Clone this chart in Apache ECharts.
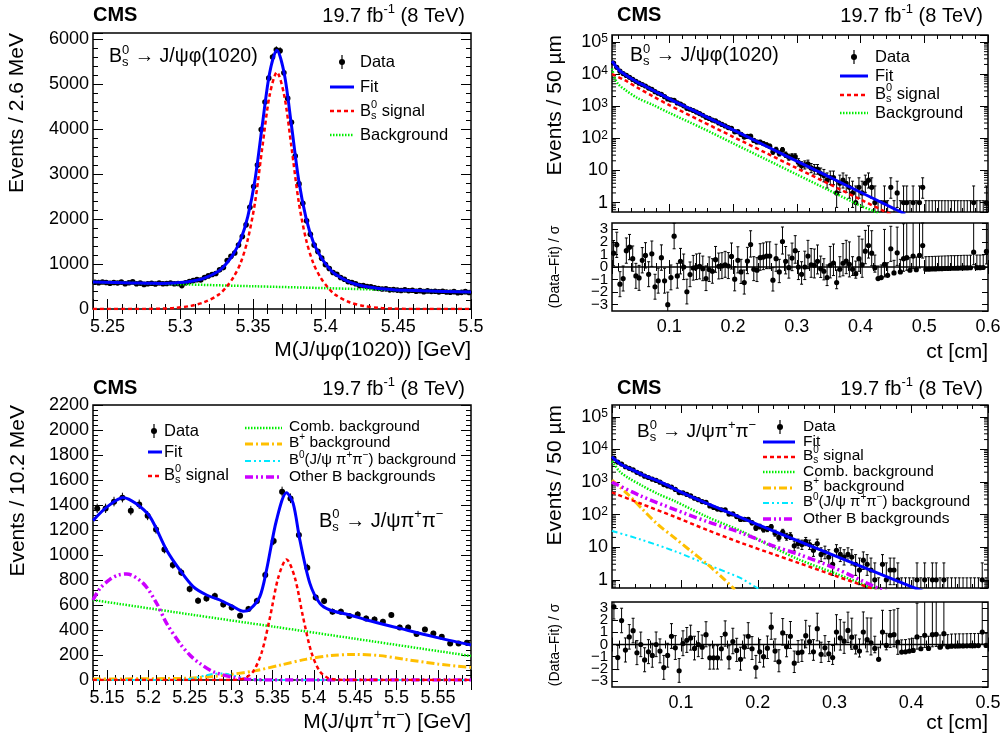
<!DOCTYPE html>
<html>
<head>
<meta charset="utf-8">
<script src="https://cdn.jsdelivr.net/npm/echarts@6/dist/echarts.min.js"></script>
<style>
html, body { margin: 0; padding: 0; background: #fff; }
#c { width: 1007px; height: 736px; }
</style>
</head>
<body>
<div id="c"></div>
<script>
const FONT = '"Liberation Sans", Arial, Helvetica, sans-serif';

// ---------------- binning ----------------
const PHI_M_LO = 5.24, PHI_M_HI = 5.5, PHI_M_BIN = 0.0026;      // 2.6 MeV bins
const PIPI_M_LO = 5.133, PIPI_M_HI = 5.59, PIPI_M_BIN = 0.01016; // 10.2 MeV bins
const CT_LO = 0.01, CT_BIN = 0.005;                               // 50 um bins
const PHI_CT_HI = 0.6, PIPI_CT_HI = 0.5;

// ---------------- Bs -> J/psi phi(1020): mass ----------------
const phiMassCounts = [
  595,585,600,588,572,588,578,598,562,583,
  602,560,574,547,560,572,556,578,562,566,
  578,560,566,520,582,612,630,652,645,700,
  735,765,790,870,920,1075,1170,1245,1420,1610,
  1870,2260,2720,3200,3990,4600,5130,5600,5760,5740,
  5250,4680,4150,3400,2780,2350,1960,1660,1420,1280,
  1130,985,900,810,770,700,660,605,590,560,
  520,520,500,495,470,455,445,448,425,430,
  420,410,425,405,415,395,408,385,402,388,
  395,380,395,378,372,385,360,370,385,365
];
const phiMassFit = [
  [5.24,602],[5.2665,579],[5.2765,572],[5.2865,569],[5.2965,578],[5.3065,609],[5.3165,685],
  [5.3265,847],[5.3315,1002],[5.3365,1218],[5.3415,1533],[5.3465,2059],[5.3515,2885],[5.3565,4100],
  [5.3615,5246],[5.3665,5752],[5.3715,5237],[5.3765,4083],[5.3815,2859],[5.3865,2024],[5.3915,1490],
  [5.3965,1166],[5.4015,941],[5.4065,777],[5.4165,598],[5.4265,504],[5.4365,456],[5.4465,430],
  [5.4565,415],[5.4665,404],[5.5,375]
];
const phiMassSignal = [
  [5.24,0],[5.2665,0],[5.2765,2],[5.2865,8],[5.2965,25],[5.3065,65],[5.3165,150],[5.3265,320],
  [5.3315,480],[5.3365,700],[5.3415,1020],[5.3465,1550],[5.3515,2380],[5.3565,3600],[5.3615,4750],
  [5.3665,5260],[5.3715,4750],[5.3765,3600],[5.3815,2380],[5.3865,1550],[5.3915,1020],[5.3965,700],
  [5.4015,480],[5.4065,320],[5.4165,150],[5.4265,65],[5.4365,25],[5.4465,8],[5.4565,2],[5.4665,0],[5.5,0]
];
const phiMassBkg = [[5.24,602],[5.3,550],[5.35,506],[5.4,463],[5.45,419],[5.5,375]];

// ---------------- Bs -> J/psi phi(1020): proper decay length ----------------
const phiCtCounts = [
  22163,16222,12347,10406,9123,7939,6854,5945,5236,4736,
  4260,3685,3360,2840,2534,2335,1985,1678,1576,1533,
  1264,1168,1031,862,807,736,659,591,524,452,
  418,370,348,303,271,244,217,205,160,161,
  133,110,115,117,86,77,77,69,63,57,
  38,45,34,44,31,26,27,27,18,14,
  15,16,12,11,11,8,7,5,6,6,
  2,4,5,4,3,2,1,3,2,4,
  5,3,1,0,0,1,0,3,0,2,
  0,1,1,0,1,0,1,3,0,0,
  0,0,0,0,0,0,0,0,0,0,
  0,0,0,1,0,0,0,1
];
const phiCtPull = [
  1.1,1.76,-1.37,-0.92,1.3,1.58,0.66,-0.71,-0.87,0.53,
  0.92,-0.58,1.05,-1.58,-1.1,0.74,-1.1,-3.0,-0.84,2.45,
  -0.71,0.45,0,-1.97,-0.6,-0.08,0,0.05,-0.13,-0.92,
  -0.2,-0.34,0.58,0.05,0.08,0.18,0.08,0.84,-0.97,0.53,
  -0.39,-1.24,0.47,1.79,-0.18,-0.26,0.74,0.79,0.87,0.87,
  -1.05,0.66,-0.39,2.03,0.45,-0.05,0.71,1.3,0,-0.58,
  0,0.87,0.18,0.13,0.45,-0.13,-0.34,-0.84,0.13,0.32,
  -1.24,-0.18,0.3,0.47,0.21,-0.18,-0.53,0.66,0.18,1.26,
  1.71,1.1,-0.05,-0.92,-0.84,0.21,-0.66,1.45,-0.47,1.13,
  -0.39,0.66,0.74,-0.26,0.87,-0.21,0.92,1.71,-0.18,-0.17,
  -0.16,-0.15,-0.14,-0.13,-0.12,-0.11,-0.1,-0.1,-0.09,-0.08,
  -0.07,-0.07,-0.06,1.18,-0.05,-0.05,-0.04,1.24
];
const phiCtFit = [
  [0.01,25000],[0.0125,22000],[0.0175,16000],[0.0225,12500],[0.03,9800],[0.04,7300],[0.05,5600],
  [0.0625,4200],[0.075,3080],[0.0875,2300],[0.1,1700],[0.125,975],[0.15,560],[0.2,183],[0.25,60],
  [0.3,19.5],[0.35,6.4],[0.4,2.1],[0.45,0.69],[0.47,0.44]
];
const phiCtSignal = [
  [0.01,10000],[0.03,6500],[0.05,3800],[0.075,2000],[0.1,1080],[0.15,345],[0.2,112],[0.25,36.5],
  [0.3,11.8],[0.35,3.85],[0.4,1.25],[0.44,0.51],[0.45,0.42]
];
const phiCtBkg = [
  [0.01,15000],[0.015,7000],[0.02,4800],[0.03,3300],[0.05,1800],[0.075,1080],[0.1,620],[0.15,215],
  [0.2,70],[0.25,23],[0.3,7.5],[0.35,2.45],[0.4,0.8],[0.42,0.55],[0.43,0.44]
];

// ---------------- Bs -> J/psi pi+ pi-: mass ----------------
const pipiMassCounts = [
  1373,1373,1427,1459,1355,1405,1315,1205,1045,920,
  861,728,635,653,672,605,581,515,568,632,
  840,1112,1507,1453,1160,899,661,632,547,547,
  512,525,493,485,467,520,421,421,368,405,
  373,347,293,293,299
];
const pipiMassFit = [
  [5.133,1275],[5.15,1385],[5.17,1459],[5.185,1412],[5.2018,1307],[5.2219,1040],[5.238,880],
  [5.2541,747],[5.2703,680],[5.2864,640],[5.3025,587],[5.3146,550],[5.3226,565],[5.3347,667],
  [5.3428,880],[5.3549,1280],[5.367,1499],[5.375,1413],[5.3831,1120],[5.3952,773],[5.4073,613],
  [5.4194,560],[5.4436,520],[5.4637,480],[5.504,413],[5.5443,347],[5.59,280]
];
const pipiMassSignal = [
  [5.133,0],[5.297,0],[5.307,3],[5.317,16],[5.327,71],[5.337,222],[5.347,502],[5.357,820],
  [5.367,965],[5.377,820],[5.387,502],[5.397,222],[5.407,71],[5.417,16],[5.427,3],[5.437,0],[5.59,0]
];
const pipiMassComb = [[5.133,640],[5.25,525],[5.35,428],[5.45,330],[5.59,192]];
const pipiMassBplus = [
  [5.133,8],[5.2,10],[5.25,15],[5.28,30],[5.3,45],[5.33,75],[5.36,120],[5.39,165],[5.42,195],
  [5.45,205],[5.48,195],[5.51,165],[5.55,128],[5.59,100]
];
const pipiMassB0 = [
  [5.133,0],[5.235,0],[5.25,8],[5.265,30],[5.28,50],[5.29,52],[5.3,40],[5.315,15],[5.33,3],[5.35,0],[5.59,0]
];
const pipiMassOther = [
  [5.133,640],[5.1415,733],[5.1535,805],[5.1636,840],[5.1737,848],[5.1938,773],[5.21,613],[5.222,453],
  [5.238,293],[5.25,200],[5.262,133],[5.278,67],[5.302,21],[5.322,5],[5.345,0],[5.59,0]
];

// ---------------- Bs -> J/psi pi+ pi-: proper decay length ----------------
const pipiCtCounts = [
  5423,4071,3551,2935,2617,2340,1979,1762,1510,1375,
  1219,1120,987,832,755,701,591,475,464,417,
  374,317,287,251,238,185,165,148,141,139,
  104,105,87,71,72,71,56,39,43,35,
  36,42,27,20,29,21,22,11,13,12,
  15,12,8,13,6,7,5,3,8,6,
  5,6,5,3,2,4,3,2,1,0,
  3,1,2,2,1,0,0,0,0,1,
  0,1,0,1,1,0,1,0,0,0,
  0,0,0,0,0,0,1,0
];
const pipiCtPull = [
  3.1,-1.08,1.97,-0.46,0.62,1.14,-0.68,0,-1.27,-0.6,
  -0.9,0,-0.54,-1.9,-0.9,0.68,-0.27,-2.16,0.08,0.35,
  0.54,-0.32,0,-0.22,0.81,-1.1,-1.1,-1.1,-0.35,0.86,
  -1.1,0.24,-0.49,-1.22,-0.22,0.68,-0.35,-1.9,-0.6,-1.0,
  -0.3,1.43,-0.54,-1.43,0.95,-0.19,0.68,-1.54,-0.68,-0.62,
  0.73,0.24,-0.6,1.3,-0.81,-0.27,-0.76,-1.08,1.03,0.54,
  0.27,1.16,0.6,-0.22,-0.54,1.03,0.4,0.14,-0.32,-1.22,
  1.03,-0.08,0.76,0.81,0.19,-0.62,-0.6,-0.54,-0.49,0.62,
  -0.35,0.76,-0.32,0.81,0.84,-0.22,0.89,-0.19,-0.14,-0.13,
  -0.12,-0.12,-0.11,-0.1,-0.1,-0.09,1.03,-0.08
];
const pipiCtFit = [
  [0.01,6000],[0.0125,5200],[0.02,3700],[0.03,2750],[0.04,2150],[0.05,1650],[0.075,950],[0.1,490],
  [0.135,213],[0.15,153],[0.2,49.5],[0.25,16.5],[0.3,5.5],[0.35,1.85],[0.4,0.62],[0.42,0.4]
];
const pipiCtSignal = [
  [0.01,480],[0.0115,465],[0.048,215],[0.092,85],[0.135,33],[0.1785,13.5],[0.222,5.9],[0.2546,3.2],
  [0.3,1.35],[0.343,0.6],[0.36,0.42]
];
const pipiCtComb = [
  [0.01,4300],[0.0115,3900],[0.02,2100],[0.031,1350],[0.048,800],[0.07,430],[0.092,258],[0.135,83],
  [0.1785,31],[0.222,9.4],[0.2546,4.1],[0.3,1.6],[0.35,0.56],[0.36,0.45]
];
const pipiCtBplus = [
  [0.01,1150],[0.0115,1070],[0.031,413],[0.048,160],[0.07,49],[0.092,19],[0.113,7.5],[0.135,2.9],
  [0.157,1],[0.17,0.5]
];
const pipiCtB0 = [[0.01,32],[0.0115,31],[0.048,17],[0.092,7.5],[0.135,2.9],[0.1785,1.1],[0.2,0.55],[0.21,0.45]];
const pipiCtOther = [
  [0.01,1000],[0.0115,950],[0.048,370],[0.092,142],[0.135,60],[0.1785,27.5],[0.222,10.6],[0.2546,5.9],
  [0.3,2.3],[0.356,0.56],[0.37,0.42]
];

// ---------------- Poisson (68.3%) intervals for small counts ----------------
const POISSON_LO = [0, 0.827, 1.292, 1.633, 1.914, 2.159, 2.380, 2.581, 2.768, 2.943, 3.108];
const POISSON_HI = [1.148, 2.299, 2.637, 2.918, 3.162, 3.382, 3.583, 3.770, 3.944, 4.110, 4.266];
const errLo = n => (n <= 10 ? POISSON_LO[Math.round(n)] : Math.sqrt(n));
const errHi = n => (n <= 10 ? POISSON_HI[Math.round(n)] : Math.sqrt(n) + 1);

function histItems(counts, x0, dx) {
  return counts.map((n, i) => [x0 + dx * (i + 0.5), n, n - errLo(n), n + errHi(n)]);
}
function pullItems(pulls, counts, x0, dx) {
  return pulls.map((p, i) => {
    const n = counts[i];
    let up, dn;
    if (p >= 0) { dn = 1; up = n > 0 ? errHi(n) / errLo(n) : 1; }
    else { up = 1; dn = errLo(n) / errHi(n); }
    return [x0 + dx * (i + 0.5), p, p - dn, p + up];
  });
}

// ---------------- line styles ----------------
const STY = {
  fit:   { color: '#0000ff', width: 3,   dash: 'solid' },
  sig:   { color: '#ff0000', width: 2.5, dash: [4, 3] },
  bkg:   { color: '#00ee00', width: 2.5, dash: [1.5, 1.5] },
  bplus: { color: '#ffbf00', width: 3,   dash: [8, 3, 2, 3] },
  b0:    { color: '#00e8ff', width: 2,   dash: [6, 3, 2, 3, 2, 3] },
  other: { color: '#cc00ff', width: 3.5, dash: [8, 3, 2, 3, 2, 3] }
};

// ---------------- layout ----------------
const grids = [
  { left: 93,  top: 33,  width: 378, height: 276 },
  { left: 612, top: 35,  width: 376, height: 177 },
  { left: 612, top: 223, width: 376, height: 88 },
  { left: 93,  top: 405, width: 378, height: 275 },
  { left: 612, top: 405, width: 376, height: 183 },
  { left: 612, top: 602, width: 376, height: 85 }
].map(g => Object.assign({ show: true, borderColor: '#000', borderWidth: 1.5, backgroundColor: 'transparent',
                            containLabel: false, outerBoundsMode: 'none' }, g));

function axis(grid, pos, range, o) {
  o = o || {};
  const log = !!o.log;
  const tick = o.tick || 9;
  return {
    type: log ? 'log' : 'value', logBase: 10, gridIndex: grid, position: pos,
    min: range[0], max: range[1], splitNumber: o.split || 5, scale: true,
    axisLine: { show: false },
    axisTick: { show: true, inside: true, length: tick, lineStyle: { color: '#000', width: 1 } },
    minorTick: { show: !log && o.minor !== 0, splitNumber: o.minor || 5, length: Math.round(tick / 2),
                 lineStyle: { color: '#000', width: 1 } },
    splitLine: { show: false }, minorSplitLine: { show: false },
    axisLabel: o.labels ? {
      show: true, color: '#000', fontFamily: FONT, fontSize: o.fontSize || 18, margin: o.margin || 4,
      showMinLabel: !!o.showMin, showMaxLabel: !!o.showMax, formatter: o.fmt || plainFmt, rich: o.rich
    } : { show: false }
  };
}
const plainFmt = v => String(+v.toFixed(6));
const minusFmt = v => (v < 0 ? '\u2212' + Math.abs(v) : String(v));
const logFmt = v => {
  const e = Math.round(Math.log10(v));
  if (Math.abs(v - Math.pow(10, e)) > 1e-6 * v) return '';
  if (e === 0) return '1';
  if (e === 1) return '10';
  return '10{e|' + e + '}';
};
const logRich = { e: { fontSize: 12, fontFamily: FONT, color: '#000', verticalAlign: 'top', lineHeight: 18 } };

const xRanges = [[PHI_M_LO, PHI_M_HI], [CT_LO, PHI_CT_HI], [CT_LO, PHI_CT_HI],
                 [PIPI_M_LO, PIPI_M_HI], [CT_LO, PIPI_CT_HI], [CT_LO, PIPI_CT_HI]];
const xOpts = [
  { split: 5, labels: true, showMax: true, margin: 9, tick: 10 },
  { split: 6, tick: 8 },
  { split: 6, tick: 7, labels: true, showMax: true, margin: 7 },
  { split: 9, labels: true, margin: 9, tick: 10 },
  { split: 5, tick: 8 },
  { split: 5, tick: 7, labels: true, showMax: true, margin: 7 }
];
const yRanges = [[0, 6133], [0.51, 1.65e5], [-3.5, 3.5], [0, 2200], [0.56, 2.3e5], [-3.5, 3.5]];
const yOpts = [
  { split: 6, labels: true, tick: 10, showMin: true },
  { log: true, labels: true, tick: 8, fmt: logFmt, rich: logRich },
  { split: 7, labels: true, tick: 6, minor: 0, fmt: minusFmt, fontSize: 15 },
  { split: 11, labels: true, tick: 10, showMin: true, showMax: true },
  { log: true, labels: true, tick: 8, fmt: logFmt, rich: logRich },
  { split: 7, labels: true, tick: 6, minor: 0, fmt: minusFmt, fontSize: 15 }
];
const xAxis = [], yAxis = [];
for (let g = 0; g < 6; g++) xAxis.push(axis(g, 'bottom', xRanges[g], xOpts[g]));
for (let g = 0; g < 6; g++) xAxis.push(axis(g, 'top', xRanges[g], Object.assign({}, xOpts[g], { labels: false })));
for (let g = 0; g < 6; g++) yAxis.push(axis(g, 'left', yRanges[g], yOpts[g]));
for (let g = 0; g < 6; g++) yAxis.push(axis(g, 'right', yRanges[g], Object.assign({}, yOpts[g], { labels: false })));

// ---------------- series ----------------
const series = [];

function pointRenderer(opt) {
  return function (params, api) {
    const cs = params.coordSys;
    const top = cs.y, bot = cs.y + cs.height;
    const x = api.value(0), y = api.value(1), lo = api.value(2), hi = api.value(3);
    const xp = api.coord([x, opt.log ? 1 : 0])[0];
    const yPix = v => {
      if (opt.log && !(v > 0)) return bot + 2;
      const p = api.coord([x, v])[1];
      return isFinite(p) ? p : bot + 2;
    };
    const clamp = v => Math.max(top, Math.min(bot, v));
    const children = [];
    const yl = yPix(lo), yh = yPix(hi);
    const y1 = clamp(yl), y2 = clamp(yh);
    if (y1 - y2 > 0.3) {
      children.push({ type: 'line', shape: { x1: xp, y1: y1, x2: xp, y2: y2 },
                      style: { stroke: '#000', lineWidth: 1 } });
      if (opt.cap) {
        if (yh > top) children.push({ type: 'line', shape: { x1: xp - 1.5, y1: y2, x2: xp + 1.5, y2: y2 }, style: { stroke: '#000', lineWidth: 1 } });
        if (yl < bot) children.push({ type: 'line', shape: { x1: xp - 1.5, y1: y1, x2: xp + 1.5, y2: y1 }, style: { stroke: '#000', lineWidth: 1 } });
      }
    }
    if (!opt.log || y > 0) {
      const yp = yPix(y);
      if (yp >= top - 0.5 && yp <= bot + 0.5) {
        children.push({ type: 'circle', shape: { cx: xp, cy: yp, r: opt.r || 2.8 }, style: { fill: '#000' } });
      }
    }
    return { type: 'group', children: children };
  };
}
function points(grid, items, opt) {
  series.push({ type: 'custom', xAxisIndex: grid, yAxisIndex: grid, data: items, silent: true, z: 3,
                renderItem: pointRenderer(opt) });
}
function curve(grid, data, sty, z) {
  series.push({ type: 'line', xAxisIndex: grid, yAxisIndex: grid, data: data, showSymbol: false, symbol: 'none',
                smooth: 0.3, clip: true, silent: true, z: z || 4,
                lineStyle: { color: sty.color, width: sty.width, type: sty.dash, cap: 'butt' } });
}
function zeroLine(grid, range) {
  series.push({ type: 'line', xAxisIndex: grid, yAxisIndex: grid, data: [[range[0], 0], [range[1], 0]],
                showSymbol: false, symbol: 'none', silent: true, z: 2, lineStyle: { color: '#000', width: 1.5 } });
}
function logMinorTicks(grid, range, xRef) {
  const vals = [];
  for (let d = -1; d <= 6; d++) {
    for (let k = 2; k <= 9; k++) {
      const v = k * Math.pow(10, d);
      if (v > range[0] && v < range[1]) vals.push([xRef, v]);
    }
  }
  series.push({ type: 'custom', xAxisIndex: grid, yAxisIndex: grid, data: vals, silent: true, z: 1,
    renderItem: function (params, api) {
      const cs = params.coordSys;
      const yp = api.coord([api.value(0), api.value(1)])[1];
      return { type: 'group', children: [
        { type: 'line', shape: { x1: cs.x, y1: yp, x2: cs.x + 4, y2: yp }, style: { stroke: '#000', lineWidth: 1 } },
        { type: 'line', shape: { x1: cs.x + cs.width - 4, y1: yp, x2: cs.x + cs.width, y2: yp }, style: { stroke: '#000', lineWidth: 1 } }
      ] };
    } });
}

// panel 0: phi mass
points(0, histItems(phiMassCounts, PHI_M_LO, PHI_M_BIN), { r: 2.8 });
curve(0, phiMassBkg, STY.bkg);
curve(0, phiMassSignal, STY.sig);
curve(0, phiMassFit, STY.fit, 5);

// panels 1-2: phi ct + pulls
logMinorTicks(1, yRanges[1], 0.3);
points(1, histItems(phiCtCounts, CT_LO, CT_BIN), { log: true, r: 2.6, cap: true });
curve(1, phiCtBkg, STY.bkg);
curve(1, phiCtSignal, STY.sig);
curve(1, phiCtFit, STY.fit, 5);
zeroLine(2, xRanges[2]);
points(2, pullItems(phiCtPull, phiCtCounts, CT_LO, CT_BIN), { r: 2.6, cap: true });

// panel 3: pipi mass
points(3, histItems(pipiMassCounts, PIPI_M_LO, PIPI_M_BIN), { r: 3 });
curve(3, pipiMassComb, STY.bkg);
curve(3, pipiMassBplus, STY.bplus);
curve(3, pipiMassB0, STY.b0);
curve(3, pipiMassOther, STY.other);
curve(3, pipiMassSignal, STY.sig);
curve(3, pipiMassFit, STY.fit, 5);

// panels 4-5: pipi ct + pulls
logMinorTicks(4, yRanges[4], 0.3);
points(4, histItems(pipiCtCounts, CT_LO, CT_BIN), { log: true, r: 2.6, cap: true });
curve(4, pipiCtB0, STY.b0);
curve(4, pipiCtBplus, STY.bplus);
curve(4, pipiCtComb, STY.bkg);
curve(4, pipiCtOther, STY.other);
curve(4, pipiCtSignal, STY.sig);
curve(4, pipiCtFit, STY.fit, 5);
zeroLine(5, xRanges[5]);
points(5, pullItems(pipiCtPull, pipiCtCounts, CT_LO, CT_BIN), { r: 2.6, cap: true });

// ---------------- text ----------------
const measureCtx = document.createElement('canvas').getContext('2d');
function textWidth(t, size, bold) {
  measureCtx.font = (bold ? 'bold ' : '') + size + 'px ' + FONT;
  return measureCtx.measureText(t).width;
}
// pieces: [text, role]; role '' = normal, '^' = superscript, '_' = subscript.
// A '^' followed directly by '_' (or vice versa) is stacked.
function mathText(x, y, pieces, size, align) {
  const small = Math.round(size * 0.66);
  const els = [];
  let cx = 0;
  for (let i = 0; i < pieces.length; i++) {
    const t = pieces[i][0], role = pieces[i][1];
    if (!role) {
      els.push({ type: 'text', x: cx, y: 0, style: { text: t, font: size + 'px ' + FONT, fill: '#000', verticalAlign: 'middle' } });
      cx += textWidth(t, size);
    } else {
      const dy = role === '^' ? -size * 0.34 : size * 0.3;
      els.push({ type: 'text', x: cx, y: dy, style: { text: t, font: small + 'px ' + FONT, fill: '#000', verticalAlign: 'middle' } });
      let w = textWidth(t, small);
      const nx = pieces[i + 1];
      if (nx && nx[1] && nx[1] !== role) {
        const dy2 = nx[1] === '^' ? -size * 0.34 : size * 0.3;
        els.push({ type: 'text', x: cx, y: dy2, style: { text: nx[0], font: small + 'px ' + FONT, fill: '#000', verticalAlign: 'middle' } });
        w = Math.max(w, textWidth(nx[0], small));
        i++;
      }
      cx += w;
    }
  }
  const gx = align === 'right' ? x - cx : (align === 'center' ? x - cx / 2 : x);
  return { type: 'group', x: gx, y: y, children: els, silent: true };
}
function plainText(x, y, t, size, align, bold) {
  return { type: 'text', x: x, y: y, silent: true,
           style: { text: t, font: (bold ? 'bold ' : '') + size + 'px ' + FONT, fill: '#000', align: align || 'left', verticalAlign: 'middle' } };
}
function vText(x, y, t, size, align) {
  return { type: 'text', x: x, y: y, rotation: Math.PI / 2, silent: true,
           style: { text: t, font: size + 'px ' + FONT, fill: '#000', align: align || 'right', verticalAlign: 'middle' } };
}
function legLine(x1, x2, y, sty) {
  return { type: 'line', silent: true, shape: { x1: x1, y1: y, x2: x2, y2: y },
           style: { stroke: sty.color, lineWidth: sty.width, lineDash: Array.isArray(sty.dash) ? sty.dash : null } };
}
function legData(x, y) {
  return { type: 'group', silent: true, children: [
    { type: 'line', shape: { x1: x, y1: y - 7, x2: x, y2: y + 7 }, style: { stroke: '#000', lineWidth: 1.2 } },
    { type: 'circle', shape: { cx: x, cy: y, r: 3 }, style: { fill: '#000' } }
  ] };
}
const lumi = [['19.7 fb', ''], ['-1', '^'], [' (8 TeV)', '']];
const bsPhi = [['B', ''], ['0', '^'], ['s', '_'], [' \u2192 J/\u03c8\u03c6(1020)', '']];
const bsPiPi = [['B', ''], ['0', '^'], ['s', '_'], [' \u2192 J/\u03c8\u03c0', ''], ['+', '^'], ['\u03c0', ''], ['\u2212', '^']];
const bsSignal = [['B', ''], ['0', '^'], ['s', '_'], [' signal', '']];
const bPlusBkg = [['B', ''], ['+', '^'], [' background', '']];
const bZeroBkg = [['B', ''], ['0', '^'], ['(J/\u03c8 \u03c0', ''], ['+', '^'], ['\u03c0', ''], ['\u2212', '^'], [') background', '']];

const graphics = [
  // panel 0
  plainText(93, 15, 'CMS', 20, 'left', true),
  mathText(465, 16, lumi, 20, 'right'),
  vText(17, 33, 'Events / 2.6 MeV', 21),
  plainText(471, 350, 'M(J/\u03c8\u03c6(1020)) [GeV]', 21, 'right'),
  mathText(109, 57, bsPhi, 19.5, 'left'),
  legData(342, 62), plainText(360, 62, 'Data', 16.5),
  legLine(330, 354, 87, STY.fit), plainText(360, 87, 'Fit', 16.5),
  legLine(330, 354, 111, STY.sig), mathText(360, 111, bsSignal, 16.5, 'left'),
  legLine(330, 354, 135, STY.bkg), plainText(360, 135, 'Background', 16.5),

  // panels 1-2
  plainText(617, 15, 'CMS', 20, 'left', true),
  mathText(983, 16, lumi, 20, 'right'),
  vText(555, 35, 'Events / 50 \u00b5m', 21),
  vText(555, 267, '(Data\u2013Fit) / \u03c3', 14, 'center'),
  plainText(988, 352, 'ct [cm]', 21, 'right'),
  mathText(630, 56, bsPhi, 19.5, 'left'),
  legData(854, 57), plainText(875, 57, 'Data', 16.5),
  legLine(840, 868, 76, STY.fit), plainText(875, 76, 'Fit', 16.5),
  legLine(840, 868, 95, STY.sig), mathText(875, 94, bsSignal, 16.5, 'left'),
  legLine(840, 868, 113, STY.bkg), plainText(875, 113, 'Background', 16.5),

  // panel 3
  plainText(93, 388, 'CMS', 20, 'left', true),
  mathText(465, 389, lumi, 20, 'right'),
  vText(18, 405, 'Events / 10.2 MeV', 21),
  mathText(471, 722, [['M(J/\u03c8\u03c0', ''], ['+', '^'], ['\u03c0', ''], ['\u2212', '^'], [') [GeV]', '']], 21, 'right'),
  mathText(319, 521, bsPiPi, 20, 'left'),
  legData(154, 431), plainText(164, 431, 'Data', 16.5),
  legLine(148, 162, 452, STY.fit), plainText(164, 452, 'Fit', 16.5),
  legLine(148, 162, 476, STY.sig), mathText(164, 475, bsSignal, 16.5, 'left'),
  legLine(245, 282, 428, STY.bkg), plainText(289, 427, 'Comb. background', 15.5),
  legLine(245, 282, 444, STY.bplus), mathText(289, 443, bPlusBkg, 15.5, 'left'),
  legLine(245, 282, 461, STY.b0), mathText(289, 460, bZeroBkg, 15, 'left'),
  legLine(245, 282, 477, STY.other), plainText(289, 477, 'Other B backgrounds', 15.5),

  // panels 4-5
  plainText(617, 388, 'CMS', 20, 'left', true),
  mathText(983, 389, lumi, 20, 'right'),
  vText(555, 405, 'Events / 50 \u00b5m', 21),
  vText(555, 645, '(Data\u2013Fit) / \u03c3', 14, 'center'),
  plainText(988, 723, 'ct [cm]', 21, 'right'),
  mathText(637, 432, bsPiPi, 19, 'left'),
  legData(780, 427), plainText(803, 427, 'Data', 15.5),
  legLine(763, 795, 442, STY.fit), plainText(803, 442, 'Fit', 15.5),
  legLine(763, 795, 457, STY.sig), mathText(803, 456, bsSignal, 15.5, 'left'),
  legLine(763, 795, 472, STY.bkg), plainText(803, 472, 'Comb. background', 15.5),
  legLine(763, 795, 488, STY.bplus), mathText(803, 487, bPlusBkg, 15.5, 'left'),
  legLine(763, 795, 503, STY.b0), mathText(803, 502, bZeroBkg, 15, 'left'),
  legLine(763, 795, 519, STY.other), plainText(803, 519, 'Other B backgrounds', 15.5)
];

const chart = echarts.init(document.getElementById('c'), null, { renderer: 'canvas', width: 1007, height: 736 });
chart.setOption({
  animation: false,
  backgroundColor: '#fff',
  textStyle: { fontFamily: FONT },
  grid: grids,
  xAxis: xAxis,
  yAxis: yAxis,
  series: series,
  graphic: { elements: graphics }
});
</script>
</body>
</html>
